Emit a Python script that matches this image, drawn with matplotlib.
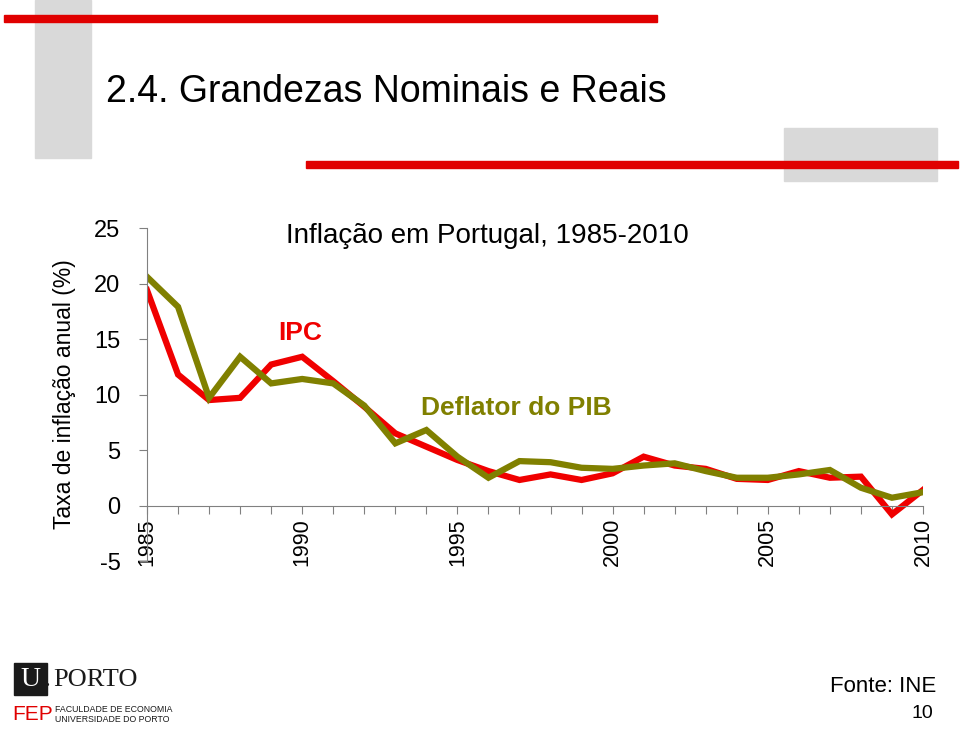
import matplotlib.pyplot as plt
from matplotlib.patches import Rectangle

plt.rcParams['font.family'] = ['Liberation Sans', 'DejaVu Sans']
plt.rcParams['axes.unicode_minus'] = False

years = list(range(1985, 2011))
ipc = [19.4, 11.8, 9.5, 9.7, 12.7, 13.4, 11.2, 8.9, 6.5, 5.3, 4.1, 3.1, 2.3,
       2.8, 2.3, 2.9, 4.4, 3.6, 3.3, 2.4, 2.3, 3.1, 2.5, 2.6, -0.8, 1.4]
deflator = [20.6, 17.9, 9.7, 13.4, 11.0, 11.4, 11.0, 9.0, 5.6, 6.8, 4.4, 2.5, 4.0,
            3.9, 3.4, 3.3, 3.6, 3.8, 3.1, 2.5, 2.5, 2.8, 3.2, 1.6, 0.7, 1.2]
y_ticks = [-5, 0, 5, 10, 15, 20, 25]
x_labels = [str(y) if y % 5 == 0 else '' for y in years]

fig = plt.figure(figsize=(9.6, 7.29), dpi=100)

# slide decoration (pixel coords -> figure fraction)
W, H = 960, 729
def rect(x0, y0, x1, y1, color):
    fig.patches.append(Rectangle((x0 / W, 1 - y1 / H), (x1 - x0) / W, (y1 - y0) / H,
                                 transform=fig.transFigure, color=color, zorder=0))

rect(35, 0, 91, 158, '#d9d9d9')
rect(784, 128, 937, 181, '#d9d9d9')
rect(4, 15, 657, 22, '#e00000')
rect(306, 161, 958, 168, '#e00000')

fig.text(106 / W, 1 - 92 / H, '2.4. Grandezas Nominais e Reais', fontsize=27,
         va='center', ha='left')

# chart
ax = fig.add_axes([147 / W, 1 - 561 / H, 776 / W, 333 / H])
ax.spines['bottom'].set_position(('data', 0))
for s in ['top', 'right']:
    ax.spines[s].set_visible(False)
ax.spines['left'].set_color('#808080')
ax.spines['bottom'].set_color('#808080')

ax.plot(years, ipc, color='#f00000', lw=4.5, solid_joinstyle='miter')
ax.plot(years, deflator, color='#808000', lw=4.5, solid_joinstyle='miter')

ax.set_xlim(1985, 2010)
ax.set_ylim(-5, 25)
ax.set_yticks(y_ticks)
ax.set_xticks(years)
ax.set_xticklabels(x_labels, rotation=90, fontsize=15.5, va='top', ha='center')
ax.tick_params(axis='y', labelsize=17, length=6, color='#808080', direction='out', pad=13)
ax.tick_params(axis='x', length=6, color='#808080', direction='out', pad=3)

ax.set_ylabel('Taxa de inflação anual (%)', fontsize=16.5, labelpad=13)

fig.text(487 / W, 1 - 236 / H, 'Inflação em Portugal, 1985-2010', fontsize=20,
         ha='center', va='center')

ax.text(1989.95, 15.5, 'IPC', color='#f00000', fontsize=19, fontweight='bold',
        ha='center', va='center')
ax.text(1996.9, 8.8, 'Deflator do PIB', color='#808000', fontsize=19, fontweight='bold',
        ha='center', va='center')

# footer logos and source
fig.patches.append(Rectangle((14 / W, 1 - 695 / H), 33 / W, 32 / H, transform=fig.transFigure,
                             color='#1a1a1a', zorder=1))
fig.text(30 / W, 1 - 680 / H, 'U', color='white', fontsize=20, family='Liberation Serif',
         ha='center', va='center')
fig.text(43 / W, 1 - 680 / H, '.', color='#1a1a1a', fontsize=20, family='Liberation Serif',
         ha='left', va='center')
fig.text(53 / W, 1 - 680 / H, 'PORTO', color='#1a1a1a', fontsize=19, family='Liberation Serif',
         ha='left', va='center')
fig.text(12 / W, 1 - 714 / H, 'FEP', color='#e00000', fontsize=15, ha='left', va='center')
fig.text(55 / W, 1 - 709 / H, 'FACULDADE DE ECONOMIA', color='#1a1a1a', fontsize=6.3,
         ha='left', va='center')
fig.text(55 / W, 1 - 719 / H, 'UNIVERSIDADE DO PORTO', color='#1a1a1a', fontsize=6.3,
         ha='left', va='center')

fig.text(936 / W, 1 - 686 / H, 'Fonte: INE', fontsize=16, ha='right', va='center')
fig.text(933 / W, 1 - 714 / H, '10', fontsize=14, ha='right', va='center')

fig.savefig('out.png', dpi=100)
